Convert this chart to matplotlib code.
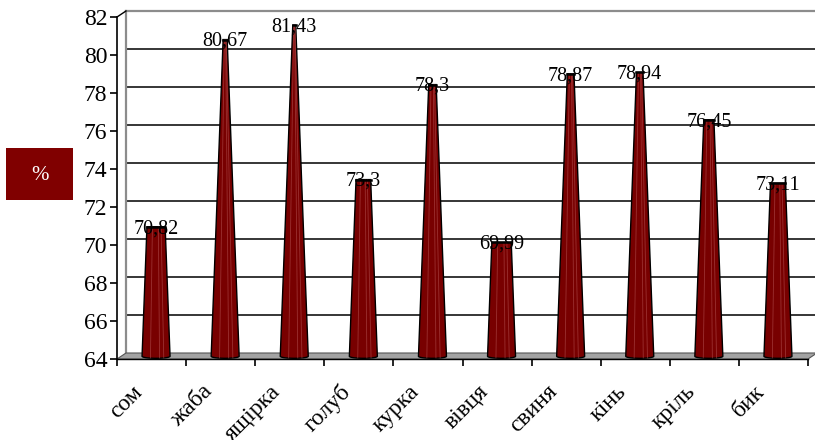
import matplotlib
matplotlib.use("Agg")

import numpy as np
import matplotlib.pyplot as plt
from matplotlib.patches import Polygon, Rectangle

categories = ["сом", "жаба", "ящірка", "голуб", "курка", "вівця", "свиня", "кінь", "кріль", "бик"]
values = [70.82, 80.67, 81.43, 73.3, 78.3, 69.99, 78.87, 78.94, 76.45, 73.11]
y_ticks = [64, 66, 68, 70, 72, 74, 76, 78, 80, 82]

plt.rcParams["font.family"] = ["Liberation Serif", "DejaVu Serif"]

W, H = 815, 440
fig = plt.figure(figsize=(W / 100, H / 100), dpi=100)
# front plane of the pseudo-3D box, in pixels
x0, x1, ytop, ybot = 117, 808, 17, 359
ax = fig.add_axes([x0 / W, (H - ybot) / H, (x1 - x0) / W, (ybot - ytop) / H])
ax.set_xlim(-0.5, len(categories) - 0.5)
ax.set_ylim(64, 82)

px_x = (len(categories)) / (x1 - x0)      # data units per pixel
px_y = 18.0 / (ybot - ytop)
ddx, ddy = 9 * px_x, 6 * px_y             # depth offset of the back wall

xl, xr = -0.5, len(categories) - 0.5

# back wall gridlines
for t in y_ticks[1:-1]:
    ax.plot([xl + ddx, xr + ddx], [t + ddy, t + ddy], color="black", lw=1.1,
            zorder=1, clip_on=False)
ax.plot([xl + ddx, xr + ddx + 0.2], [82 + ddy, 82 + ddy], color="#8c8c8c", lw=1.6,
        zorder=1, clip_on=False)
ax.plot([xl + ddx, xl + ddx], [64 + ddy, 82 + ddy], color="#8c8c8c", lw=1.6,
        zorder=1, clip_on=False)
ax.plot([xl, xl + ddx], [82, 82 + ddy], color="black", lw=1.0, zorder=1, clip_on=False)

# floor
floor = Polygon([[xl, 64], [xr, 64], [xr + ddx, 64 + ddy], [xl + ddx, 64 + ddy]],
                closed=True, facecolor="#a3a3a3", edgecolor="#555555", lw=0.8,
                zorder=2, clip_on=False)
ax.add_patch(floor)

# cones
half_base = 14 * px_x
apex = 83.5
cdx, cdy = 0.5 * ddx, 0.45 * ddy
ell = 2.0 * px_y
for i, v in enumerate(values):
    cx = i + cdx
    yb = 64 + cdy
    yt = v + cdy
    frac = 1 - (v - 64) / (apex - 64)
    half_top = half_base * frac
    th = np.linspace(np.pi, 2 * np.pi, 20)
    arc = np.column_stack([cx + half_base * np.cos(th), yb + ell * np.sin(th)])
    pts = np.vstack([[[cx - half_top, yt]], arc, [[cx + half_top, yt]]])
    ax.add_patch(Polygon(pts, closed=True, facecolor="#780000", edgecolor="black",
                         lw=1.0, zorder=3, clip_on=False))
    for f in (-0.4, 0.25, 0.55):
        ax.plot([cx + f * half_base, cx + f * half_top], [yb - ell * 0.8, yt],
                color="#b85858", lw=0.6, alpha=0.55, zorder=3.5, clip_on=False)
    ax.plot([cx - half_top, cx + half_top], [yt, yt], color="black", lw=1.8,
            zorder=3.6, clip_on=False)
    ax.text(cx, yt - 0.1, str(v).replace(".", ","), ha="center", va="center",
            fontsize=14.5, color="black", zorder=5)

# axes styling
for s in ("top", "right"):
    ax.spines[s].set_visible(False)
ax.spines["left"].set_linewidth(1.2)
ax.spines["bottom"].set_visible(False)
ax.plot([xl, xr], [64, 64], color="black", lw=1.0, zorder=2.5, clip_on=False)

ax.set_yticks(y_ticks)
ax.tick_params(axis="y", labelsize=17, length=5, width=1.2, pad=2)
ax.set_xticks(np.arange(-0.5, len(categories)))
ax.set_xticklabels([])
ax.tick_params(axis="x", length=5, width=1.2)

for i, c in enumerate(categories):
    ax.annotate(c, xy=(i, 64), xycoords="data", xytext=(-14, -16),
                textcoords="offset points", rotation=45, ha="right", va="top",
                rotation_mode="anchor", fontsize=17)

# legend-like box
fig.patches.append(Rectangle((6 / W, (H - 200) / H), 67 / W, 52 / H,
                             transform=fig.transFigure, facecolor="#800000",
                             edgecolor="none"))
fig.text(39.5 / W, (H - 175) / H, "%", color="white", fontsize=15,
         ha="center", va="center")

fig.savefig("out.png", dpi=100)
